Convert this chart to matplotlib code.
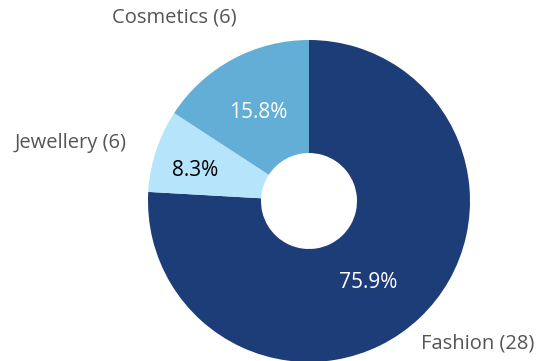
import matplotlib
matplotlib.use("Agg")
import matplotlib.pyplot as plt

# Sales by category
categories = ["Fashion", "Jewellery", "Cosmetics"]
counts = [28, 6, 6]
shares = [75.9, 8.3, 15.8]

colors = ["#1c3d78", "#b5e4fb", "#62aed6"]
pct_colors = ["white", "black", "white"]

W, H = 536, 361
fig = plt.figure(figsize=(W / 100, H / 100), dpi=100)
ax = fig.add_axes([0, 0, 1, 1])

font = "Open Sans"
cx, cy, R = 309, 160, 161
hole = 48

wedges, texts, autotexts = ax.pie(
    shares,
    colors=colors,
    startangle=90,
    counterclock=False,
    radius=R,
    center=(cx, cy),
    autopct=lambda p: f"{p:.1f}%",
    pctdistance=0.65,
    wedgeprops=dict(width=R - hole, linewidth=0),
    textprops=dict(fontsize=15, family=font),
    frame=True,
)
ax.set_xlim(0, W)
ax.set_ylim(0, H)
ax.set_aspect("equal")
ax.axis("off")

# percentage labels inside the ring
pct_pos = {
    "Fashion": (368, H - 282),
    "Jewellery": (195, H - 170),
    "Cosmetics": (258, H - 112),
}
for name, t, c in zip(categories, autotexts, pct_colors):
    t.set_color(c)
    t.set_position(pct_pos[name])

# category labels outside the ring
label_pos = {
    "Cosmetics": ((237, H - 18), "right"),
    "Jewellery": ((127, H - 143), "right"),
    "Fashion": ((421, H - 343), "left"),
}
for name, n in zip(categories, counts):
    (x, y), ha = label_pos[name]
    ax.text(x, y, f"{name} ({n})", ha=ha, va="center", fontsize=14.5,
            family=font, color="#555555")

fig.savefig("out.png", dpi=100)
